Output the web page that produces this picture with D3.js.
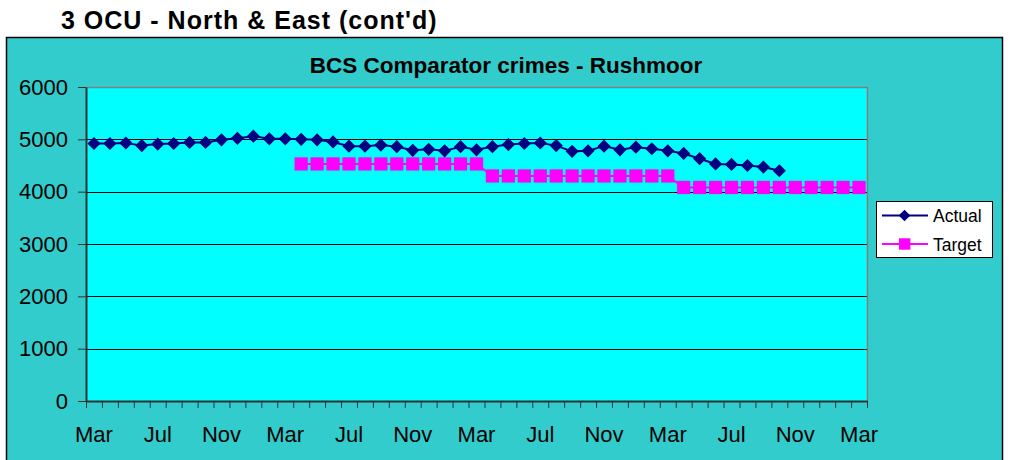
<!DOCTYPE html>
<html>
<head>
<meta charset="utf-8">
<script src="https://cdn.jsdelivr.net/npm/d3@7"></script>
<style>
  html, body { margin: 0; padding: 0; background: #ffffff; }
  svg { display: block; font-family: Arial, "Liberation Sans", sans-serif; }
</style>
</head>
<body>
<svg id="chart" width="1013" height="460"></svg>
<script>
// Monthly categories, March through March four years later
const categories = [
  "Mar","Apr","May","Jun","Jul","Aug","Sep","Oct","Nov","Dec","Jan","Feb",
  "Mar","Apr","May","Jun","Jul","Aug","Sep","Oct","Nov","Dec","Jan","Feb",
  "Mar","Apr","May","Jun","Jul","Aug","Sep","Oct","Nov","Dec","Jan","Feb",
  "Mar","Apr","May","Jun","Jul","Aug","Sep","Oct","Nov","Dec","Jan","Feb",
  "Mar"
];

// Rolling BCS comparator crime counts
const actual = [
  4920, 4920, 4930, 4880, 4910, 4920, 4940, 4940, 4990, 5020, 5060, 5010,
  5010, 5000, 4990, 4950, 4870, 4870, 4890, 4860, 4790, 4810, 4780, 4860,
  4800, 4860, 4900, 4920, 4930, 4880, 4770, 4780, 4870, 4800, 4850, 4820,
  4780, 4730, 4630, 4530, 4520, 4500, 4470, 4400
];

// Annual targets (no target before the second April)
const target = [
  null, null, null, null, null, null, null, null, null, null, null, null, null,
  4530, 4530, 4530, 4530, 4530, 4530, 4530, 4530, 4530, 4530, 4530, 4530,
  4300, 4300, 4300, 4300, 4300, 4300, 4300, 4300, 4300, 4300, 4300, 4300,
  4080, 4080, 4080, 4080, 4080, 4080, 4080, 4080, 4080, 4080, 4080, 4080
];

const yTicks = [0, 1000, 2000, 3000, 4000, 5000, 6000];
const labelEvery = 4;

const svg = d3.select("#chart");

// Page heading
svg.append("text")
  .attr("x", 61).attr("y", 29)
  .attr("font-size", 25).attr("font-weight", "bold")
  .attr("letter-spacing", 1)
  .attr("fill", "#000")
  .text("3 OCU - North & East (cont'd)");

// Chart area
svg.append("rect")
  .attr("x", 6.5).attr("y", 37.5)
  .attr("width", 996).attr("height", 440)
  .attr("fill", "#33CCCC").attr("stroke", "#000").attr("stroke-width", 1.5);

const plot = { left: 86, right: 867, top: 87, bottom: 401 };

const x = d3.scaleBand()
  .domain(d3.range(categories.length))
  .range([plot.left, plot.right])
  .paddingInner(0).paddingOuter(0);
const xEdge = d3.scaleLinear()
  .domain([0, categories.length])
  .range([plot.left, plot.right]);
const y = d3.scaleLinear().domain([0, 6000]).range([plot.bottom, plot.top]);
const cx = i => x(i) + x.bandwidth() / 2;

// Chart title
svg.append("text")
  .attr("x", 506).attr("y", 73)
  .attr("text-anchor", "middle")
  .attr("font-size", 22.5).attr("font-weight", "bold")
  .attr("fill", "#000")
  .text("BCS Comparator crimes - Rushmoor");

// Plot background
svg.append("rect")
  .attr("x", plot.left).attr("y", plot.top)
  .attr("width", plot.right - plot.left).attr("height", plot.bottom - plot.top)
  .attr("fill", "#00FFFF");

// Gridlines
svg.append("g")
  .selectAll("line")
  .data(yTicks.filter(v => v > 0 && v < 6000))
  .join("line")
  .attr("x1", plot.left).attr("x2", plot.right)
  .attr("y1", d => Math.round(y(d)) + 0.5).attr("y2", d => Math.round(y(d)) + 0.5)
  .attr("stroke", "#000").attr("stroke-width", 1)
  .attr("shape-rendering", "crispEdges");

// Plot border (top and right)
svg.append("path")
  .attr("d", `M${plot.left},${plot.top + 0.5}H${plot.right + 0.5}V${plot.bottom}`)
  .attr("fill", "none").attr("stroke", "#808080").attr("stroke-width", 1.5);

// Y axis
const yAxis = svg.append("g")
  .attr("transform", `translate(${plot.left},0)`)
  .call(d3.axisLeft(y).tickValues(yTicks).tickFormat(d3.format("d"))
    .tickSize(8).tickPadding(10).tickSizeOuter(0));
yAxis.select(".domain").attr("stroke", "#333").attr("stroke-width", 2);
yAxis.selectAll(".tick line").attr("stroke", "#333").attr("stroke-width", 1);
yAxis.selectAll("text")
  .attr("font-size", 22).attr("fill", "#000")
  .attr("font-family", "Arial, 'Liberation Sans', sans-serif")
  .attr("x", -18);

// X axis: month ticks at category boundaries
const xTickAxis = svg.append("g")
  .attr("transform", `translate(0,${plot.bottom})`)
  .call(d3.axisBottom(xEdge).tickValues(d3.range(categories.length + 1))
    .tickSize(7).tickFormat("").tickSizeOuter(0));
xTickAxis.select(".domain").attr("stroke", "#333").attr("stroke-width", 2);
xTickAxis.selectAll(".tick line").attr("stroke", "#333").attr("stroke-width", 1);

// X axis labels every fourth month
const xLabelAxis = svg.append("g")
  .attr("transform", `translate(0,${plot.bottom})`)
  .call(d3.axisBottom(x)
    .tickValues(d3.range(0, categories.length, labelEvery))
    .tickFormat(i => categories[i]).tickSize(0));
xLabelAxis.select(".domain").remove();
xLabelAxis.selectAll("text")
  .attr("font-size", 22).attr("fill", "#000")
  .attr("font-family", "Arial, 'Liberation Sans', sans-serif")
  .attr("dy", null).attr("y", 41);

// Series
const diamond = s => `M0,${-s}L${s},0L0,${s}L${-s},0Z`;

const actualLine = d3.line()
  .defined(d => d != null)
  .x((d, i) => cx(i)).y(d => y(d));
const targetLine = d3.line()
  .defined(d => d != null)
  .x((d, i) => cx(i)).y(d => y(d));

svg.append("path")
  .datum(target)
  .attr("d", targetLine)
  .attr("fill", "none").attr("stroke", "#FF00FF").attr("stroke-width", 2);

svg.append("g")
  .selectAll("rect")
  .data(target.map((v, i) => ({ v, i })).filter(d => d.v != null))
  .join("rect")
  .attr("x", d => cx(d.i) - 6.6).attr("y", d => y(d.v) - 6.6)
  .attr("width", 13.2).attr("height", 13.2)
  .attr("fill", "#FF00FF");

svg.append("path")
  .datum(actual)
  .attr("d", actualLine)
  .attr("fill", "none").attr("stroke", "#000080").attr("stroke-width", 2);

svg.append("g")
  .selectAll("path")
  .data(actual.map((v, i) => ({ v, i })))
  .join("path")
  .attr("transform", d => `translate(${cx(d.i)},${y(d.v)})`)
  .attr("d", diamond(6.6))
  .attr("fill", "#000080");

// Legend
const legend = svg.append("g");
legend.append("rect")
  .attr("x", 876.5).attr("y", 201.5).attr("width", 116).attr("height", 56)
  .attr("fill", "#ffffff").attr("stroke", "#000").attr("stroke-width", 1);

const legendItems = [
  { name: "Actual", color: "#000080", shape: "diamond", y: 215.5, ty: 222 },
  { name: "Target", color: "#FF00FF", shape: "square", y: 244, ty: 250.5 }
];
legendItems.forEach(it => {
  legend.append("line")
    .attr("x1", 882).attr("x2", 928).attr("y1", it.y).attr("y2", it.y)
    .attr("stroke", it.color).attr("stroke-width", 2);
  if (it.shape === "diamond") {
    legend.append("path")
      .attr("transform", `translate(904.5,${it.y})`)
      .attr("d", diamond(5.8)).attr("fill", it.color);
  } else {
    legend.append("rect")
      .attr("x", 899).attr("y", it.y - 5.7).attr("width", 11.4).attr("height", 11.4)
      .attr("fill", it.color);
  }
  legend.append("text")
    .attr("x", 933).attr("y", it.ty)
    .attr("font-size", 17.5).attr("fill", "#000")
    .text(it.name);
});
</script>
</body>
</html>
